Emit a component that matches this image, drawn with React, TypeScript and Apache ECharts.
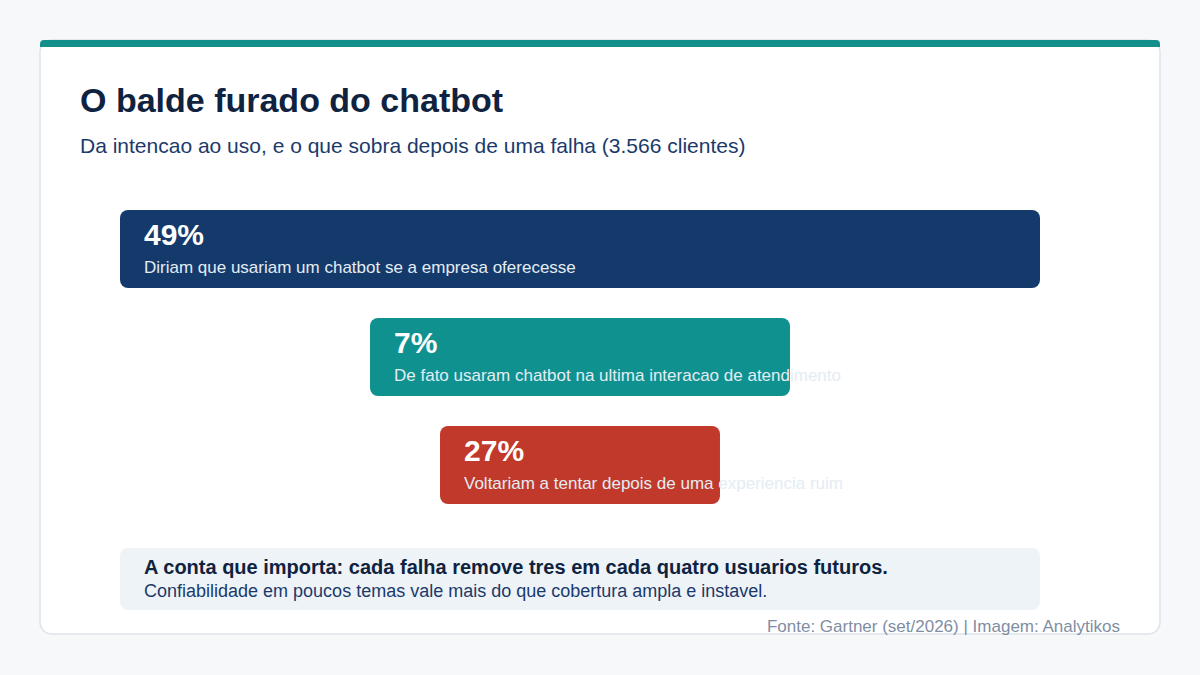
import { useEffect, useRef } from 'react';
import * as echarts from 'echarts';

// ---------------------------------------------------------------------------
// Data
// ---------------------------------------------------------------------------

const STAGES = ['intencao', 'uso', 'retorno'];
const PERCENT_LABELS = ['49%', '7%', '27%'];
const DESCRIPTIONS = [
  'Diriam que usariam um chatbot se a empresa oferecesse',
  'De fato usaram chatbot na ultima interacao de atendimento',
  'Voltariam a tentar depois de uma experiencia ruim',
];
// relative bar length, % of the widest bar
const BAR_LENGTH = [100, 45.65, 30.43];
const BAR_COLORS = ['#143a6c', '#0f918f', '#c0392b'];

const TITLE = 'O balde furado do chatbot';
const SUBTITLE = 'Da intencao ao uso, e o que sobra depois de uma falha (3.566 clientes)';
const NOTE_TITLE = 'A conta que importa: cada falha remove tres em cada quatro usuarios futuros.';
const NOTE_TEXT = 'Confiabilidade em poucos temas vale mais do que cobertura ampla e instavel.';
const SOURCE = 'Fonte: Gartner (set/2026) | Imagem: Analytikos';

const FONT = '"Liberation Sans", Arial, Helvetica, sans-serif';

// ---------------------------------------------------------------------------
// Option
// ---------------------------------------------------------------------------

function buildOption(): echarts.EChartsOption {
  const renderItem = (params: any, api: any) => {
    const idx = api.value(0);
    const len = api.value(1);
    const left = api.coord([50 - len / 2, idx]);
    const right = api.coord([50 + len / 2, idx]);
    const band = api.size([0, 1])[1];
    const h = band * (78 / 108);
    const top = left[1] - h / 2;
    return {
      type: 'group',
      children: [
        {
          type: 'rect',
          shape: { x: left[0], y: top, width: right[0] - left[0], height: h, r: 8 },
          style: { fill: BAR_COLORS[idx] },
        },
        {
          type: 'text',
          style: {
            x: left[0] + 24,
            y: top + 24,
            text: PERCENT_LABELS[idx],
            fill: '#ffffff',
            font: `bold 30px ${FONT}`,
            verticalAlign: 'middle',
          },
        },
        {
          type: 'text',
          style: {
            x: left[0] + 24,
            y: top + 57,
            text: DESCRIPTIONS[idx],
            fill: '#e4ecf4',
            font: `17px ${FONT}`,
            verticalAlign: 'middle',
          },
        },
      ],
    };
  };

  return {
    animation: false,
    backgroundColor: '#f7f8fa',
    textStyle: { fontFamily: FONT },
    graphic: [
      {
        type: 'rect',
        z: -10,
        shape: { x: 40, y: 40, width: 1120, height: 594, r: 12 },
        style: { fill: '#ffffff', stroke: '#dde4ec', lineWidth: 1.5 },
        silent: true,
      },
      {
        type: 'rect',
        z: -9,
        shape: { x: 40, y: 40, width: 1120, height: 7, r: [4, 4, 0, 0] },
        style: { fill: '#128f8b' },
        silent: true,
      },
      {
        type: 'text',
        style: { x: 80, y: 100, text: TITLE, fill: '#0f2340', font: `bold 34px ${FONT}`, verticalAlign: 'middle' },
      },
      {
        type: 'text',
        style: { x: 80, y: 145, text: SUBTITLE, fill: '#1b3a6b', font: `21px ${FONT}`, verticalAlign: 'middle' },
      },
      {
        type: 'rect',
        shape: { x: 120, y: 548, width: 920, height: 62, r: 8 },
        style: { fill: '#eef3f8' },
        silent: true,
      },
      {
        type: 'text',
        style: { x: 144, y: 567, text: NOTE_TITLE, fill: '#0f2340', font: `bold 20px ${FONT}`, verticalAlign: 'middle' },
      },
      {
        type: 'text',
        style: { x: 144, y: 591, text: NOTE_TEXT, fill: '#1b3a6b', font: `18px ${FONT}`, verticalAlign: 'middle' },
      },
      {
        type: 'text',
        style: { x: 1120, y: 626, text: SOURCE, fill: '#7f8ea3', font: `17px ${FONT}`, align: 'right', verticalAlign: 'middle' },
      },
    ],
    grid: { left: 120, width: 920, top: 195, height: 324 },
    xAxis: { type: 'value', min: 0, max: 100, show: false },
    yAxis: { type: 'category', data: STAGES, inverse: true, show: false },
    series: [
      {
        type: 'custom',
        renderItem,
        clip: false,
        encode: { x: 1, y: 0 },
        data: STAGES.map((_, i) => [i, BAR_LENGTH[i]]),
      },
    ],
  };
}

// ---------------------------------------------------------------------------
// Component
// ---------------------------------------------------------------------------

export default function App() {
  const containerRef = useRef<HTMLDivElement | null>(null);

  useEffect(() => {
    if (!containerRef.current) return;
    const chart = echarts.init(containerRef.current, undefined, { renderer: 'svg' });
    chart.setOption(buildOption());
    return () => chart.dispose();
  }, []);

  return (
    <div
      ref={containerRef}
      style={{ position: 'fixed', left: 0, top: 0, width: 1200, height: 675 }}
    />
  );
}
